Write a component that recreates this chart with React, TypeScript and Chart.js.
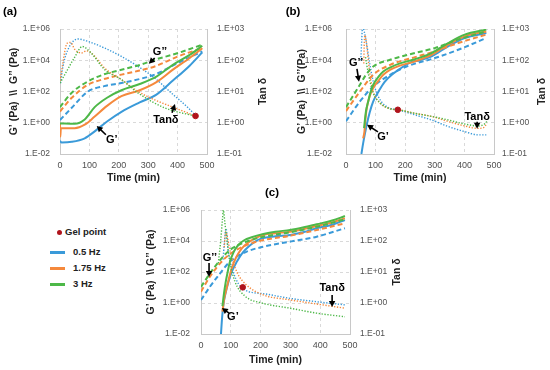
import React, { useEffect, useRef } from 'react';
import { Chart, registerables } from 'chart.js';

Chart.register(...registerables);

// ---------- shared axis / legend text ----------
const LEFT_TICK_VALUES = [0.01, 1, 100, 1e4, 1e6];
const LEFT_TICK_LABELS = ['1.E-02', '1.E+00', '1.E+02', '1.E+04', '1.E+06'];
const RIGHT_TICK_VALUES = [0.1, 1, 10, 100, 1000];
const RIGHT_TICK_LABELS = ['1.E-01', '1.E+00', '1.E+01', '1.E+02', '1.E+03'];
const FREQ_LABELS = ['0.5 Hz', '1.75 Hz', '3 Hz'];
const GEL_LABEL = 'Gel point';
const X_TITLE = 'Time (min)';
const RIGHT_TITLE = 'Tan δ';

// ---------- panel (a) ----------
const aGp05T = [0, 5, 40, 84, 118, 160, 209, 271, 328, 384, 441, 484];
const aGp05V = [0.07, 0.055, 0.06, 0.1, 0.28, 1.2, 5, 20, 63, 500, 4500, 32000];
const aGp175T = [0, 1, 3, 50, 84, 118, 160, 209, 271, 328, 384, 441, 484];
const aGp175V = [1, 0.13, 0.45, 0.45, 0.75, 2.5, 12, 50, 120, 400, 2500, 14000, 60000];
const aGp3T = [0, 50, 84, 118, 160, 209, 271, 328, 384, 441, 484];
const aGp3V = [0.9, 0.85, 1.6, 10, 40, 120, 300, 900, 5100, 22000, 85000];
const aGppT = [0, 39, 95, 150, 209, 271, 322, 401, 484];
const aGpp05V = [1.5, 8.7, 100, 220, 350, 630, 1200, 6600, 37000];
const aGpp175V = [5.2, 38, 270, 630, 1200, 2200, 4000, 17400, 60000];
const aGpp3V = [10, 80, 440, 1260, 2450, 5000, 10700, 29000, 98000];
const aTan05T = [2, 10, 30, 61, 96, 152, 209, 266, 322, 379, 436, 464];
const aTan05V = [18.6, 63, 251, 479, 398, 245, 132, 63, 27, 8.9, 3.0, 1.6];
const aTan175T = [0, 25, 36, 50, 73, 90, 107, 152, 209, 266, 322, 379, 464];
const aTan175V = [22, 355, 372, 224, 170, 200, 170, 56, 24, 10, 5.4, 3.3, 1.6];
const aTan3T = [0, 20, 50, 76, 106, 152, 209, 266, 356, 464];
const aTan3V = [18.6, 40, 126, 275, 170, 50, 24, 8.9, 3.0, 1.6];
const aGelT = [461];
const aGelV = [1.65];

// ---------- panel (b) ----------
const bGp05T = [52, 58, 65, 70, 80, 92, 110, 130, 160, 182, 216, 250, 289, 345, 401, 474];
const bGp05V = [0.01, 0.05, 0.25, 0.74, 4.5, 23, 100, 400, 1400, 2800, 7100, 10000, 17800, 78000, 263000, 550000];
const bGp175T = [58, 62, 66, 70, 80, 92, 110, 126, 150, 182, 233, 289, 345, 401, 474];
const bGp175V = [0.1, 0.25, 2, 8.5, 50, 166, 500, 1170, 2500, 4500, 8500, 22000, 100000, 340000, 700000];
const bGp3T = [61, 64, 68, 75, 82, 92, 110, 126, 150, 182, 233, 289, 345, 401, 474];
const bGp3V = [0.45, 1.6, 6.3, 23, 80, 270, 900, 1900, 3500, 6300, 11700, 29000, 126000, 436000, 910000];
const bGpp05T = [0, 47, 92, 149, 205, 300, 379, 474];
const bGpp05V = [1.26, 23, 209, 1170, 4000, 13800, 47000, 263000];
const bGpp175T = [0, 47, 92, 149, 233, 300, 379, 474];
const bGpp175V = [5.6, 100, 1170, 5100, 15800, 37000, 126000, 436000];
const bGpp3T = [0, 47, 65, 92, 149, 233, 300, 379, 474];
const bGpp3V = [10, 270, 1000, 4000, 10700, 29000, 60000, 209000, 708000];
const bTan05T = [50, 53, 56, 62, 70, 81, 92, 109, 137, 177, 233, 289, 345, 401, 446, 474];
const bTan05V = [100, 400, 1260, 800, 316, 72, 21, 6.9, 3.3, 2.6, 1.78, 1.23, 0.76, 0.52, 0.41, 0.41];
const bTan175T = [60, 62, 64, 67, 72, 81, 92, 115, 149, 177, 233, 289, 345, 401, 446, 466, 476];
const bTan175V = [79, 400, 630, 500, 200, 35, 10, 4.3, 2.8, 2.6, 2.0, 1.6, 1.1, 0.79, 0.66, 0.71, 0.95];
const bTan3T = [66, 70, 81, 92, 115, 149, 177, 233, 289, 345, 401, 446, 466, 476];
const bTan3V = [126, 72, 21, 8.9, 4.3, 2.8, 2.6, 2.0, 1.6, 1.23, 0.91, 0.79, 0.89, 1.1];
const bGelT = [175];
const bGelV = [2.6];

// ---------- panel (c) ----------
const cGp05T = [67, 71, 75, 82, 92, 105, 120, 140, 159, 180, 204, 250, 299, 345, 388, 440, 483];
const cGp05V = [0.01, 0.126, 0.74, 4, 23, 126, 457, 1780, 4270, 8900, 14800, 20000, 24500, 38000, 66000, 112000, 224000];
const cGp175T = [72, 78, 86, 94, 103, 118, 137, 158, 181, 209, 250, 299, 345, 388, 440, 483];
const cGp175V = [0.28, 2, 8.9, 40, 174, 890, 3390, 7900, 14800, 24500, 31600, 39800, 59000, 93000, 158000, 288000];
const cGp3T = [72, 77, 83, 90, 97, 110, 125, 145, 170, 209, 250, 299, 345, 388, 440, 483];
const cGp3V = [0.63, 4, 23, 112, 457, 2000, 5500, 11200, 17400, 28000, 39800, 51000, 76000, 120000, 209000, 407000];
const cGppT = [0, 30, 64, 97, 153, 209, 299, 388, 483];
const cGpp05V = [1.55, 11.2, 81, 468, 2040, 4270, 9100, 19000, 66000];
const cGpp175V = [5.4, 50, 363, 1450, 5500, 11500, 21900, 51000, 138000];
const cGpp3V = [11, 81, 590, 2630, 9100, 19000, 36300, 83000, 251000];
const cTan05T = [74, 78, 84, 92, 108, 142, 209, 299, 388, 483];
const cTan05V = [25, 79, 250, 45, 10, 2.8, 2.0, 1.41, 1.1, 0.87];
const cTan175T = [78, 83, 87, 97, 120, 153, 209, 299, 388, 483];
const cTan175V = [63, 200, 158, 51, 10.2, 3.8, 1.82, 1.26, 0.93, 0.68];
const cTan3T = [58, 66, 72, 75, 80, 86, 97, 114, 148, 204, 299, 388, 483];
const cTan3V = [19, 100, 500, 1000, 400, 123, 21, 4.9, 1.66, 1.0, 0.68, 0.47, 0.36];
const cGelT = [140];
const cGelV = [3.2];

// ---------- styles ----------
const COLORS = ['#3a9ad9', '#f5893c', '#4db848'];
const GEL_COLOR = '#b0141c';
const GRID = '#d9d9d9';
const AXIS = '#c8c8c8';
const TICK_COLOR = '#505050';
const FONT = "'Liberation Sans Narrow', 'Arial Narrow', 'Liberation Sans', Arial, sans-serif";
const BOLD_FONT = "'Liberation Sans', Arial, sans-serif";

type Ann = { text: string; tx: number; ty: number; from: [number, number]; to: [number, number] };
type PanelCfg = {
  left: number; top: number; w: number; h: number;
  padTop: number; yW: number; y2W: number; xH: number; yPad: number; y2Pad: number;
  label: string; labelDx: number; labelDy: number; labelFromCenter?: boolean;
  leftTitle: string; leftTitleOff: number; rightTitleOff: number; xTitleOff: number;
  gp: [number[], number[]][]; gpp: [number[], number[]][]; tan: [number[], number[]][];
  gel: [number[], number[]];
  anns: Ann[];
};

const zip = (t: number[], v: number[]) => t.map((x, i) => ({ x, y: v[i] }));

const PANELS: PanelCfg[] = [
  {
    left: 0, top: 0, w: 275, h: 185, padTop: 29, yW: 60, y2W: 68, xH: 31, yPad: 10, y2Pad: 10,
    label: '(a)', labelDx: -50, labelDy: -17,
    leftTitle: 'G’ (Pa)  \\\\  G’’ (Pa)', leftTitleOff: 46, rightTitleOff: 56, xTitleOff: 24,
    gp: [[aGp05T, aGp05V], [aGp175T, aGp175V], [aGp3T, aGp3V]],
    gpp: [[aGppT, aGpp05V], [aGppT, aGpp175V], [aGppT, aGpp3V]],
    tan: [[aTan05T, aTan05V], [aTan175T, aTan175V], [aTan3T, aTan3V]],
    gel: [aGelT, aGelV],
    anns: [
      { text: 'G’’', tx: 340, ty: 3.5e4, from: [322, 1.4e4], to: [302, 6e3] },
      { text: 'Tanδ', tx: 360, ty: 1.55, from: [381, 4.3], to: [391, 16] },
      { text: 'G’', tx: 176, ty: 0.08, from: [156, 0.17], to: [125, 0.63] },
    ],
  },
  {
    left: 275, top: 0, w: 275, h: 185, padTop: 29, yW: 71, y2W: 56, xH: 31, yPad: 14, y2Pad: 8,
    label: '(b)', labelDx: -53, labelDy: -17,
    leftTitle: 'G’ (Pa)  \\\\  G’’(Pa)', leftTitleOff: 44, rightTitleOff: 48, xTitleOff: 24,
    gp: [[bGp05T, bGp05V], [bGp175T, bGp175V], [bGp3T, bGp3V]],
    gpp: [[bGpp05T, bGpp05V], [bGpp175T, bGpp175V], [bGpp3T, bGpp3V]],
    tan: [[bTan05T, bTan05V], [bTan175T, bTan175V], [bTan3T, bTan3V]],
    gel: [bGelT, bGelV],
    anns: [
      { text: 'G’’', tx: 34, ty: 6900, from: [37, 2800], to: [44, 420] },
      { text: 'G’', tx: 125, ty: 0.126, from: [108, 0.26], to: [71, 0.74] },
      { text: 'Tanδ', tx: 443, ty: 2.4, from: [443, 1.15], to: [443, 0.41] },
    ],
  },
  {
    left: 130, top: 180, w: 290, h: 190, padTop: 30, yW: 71, y2W: 70, xH: 36, yPad: 11, y2Pad: 10,
    label: '(c)', labelDx: -3.5, labelDy: -17, labelFromCenter: true,
    leftTitle: 'G’ (Pa)  \\\\ G’’ (Pa)', leftTitleOff: 50, rightTitleOff: 47, xTitleOff: 26,
    gp: [[cGp05T, cGp05V], [cGp175T, cGp175V], [cGp3T, cGp3V]],
    gpp: [[cGppT, cGpp05V], [cGppT, cGpp175V], [cGppT, cGpp3V]],
    tan: [[cTan05T, cTan05V], [cTan175T, cTan175V], [cTan3T, cTan3V]],
    gel: [cGelT, cGelV],
    anns: [
      { text: 'G’’', tx: 30, ty: 800, from: [27, 380], to: [27, 48] },
      { text: 'G’', tx: 107, ty: 0.126, from: [94, 0.22], to: [70, 0.48] },
      { text: 'Tanδ', tx: 440, ty: 9.3, from: [440, 3.3], to: [440, 0.55] },
    ],
  },
];

function drawArrow(ctx: CanvasRenderingContext2D, x1: number, y1: number, x2: number, y2: number) {
  const ang = Math.atan2(y2 - y1, x2 - x1);
  const L = 6, W = 3.2;
  ctx.beginPath();
  ctx.moveTo(x1, y1);
  ctx.lineTo(x2 - (L - 1) * Math.cos(ang), y2 - (L - 1) * Math.sin(ang));
  ctx.stroke();
  ctx.beginPath();
  ctx.moveTo(x2, y2);
  ctx.lineTo(x2 - L * Math.cos(ang) + W * Math.sin(ang), y2 - L * Math.sin(ang) - W * Math.cos(ang));
  ctx.lineTo(x2 - L * Math.cos(ang) - W * Math.sin(ang), y2 - L * Math.sin(ang) + W * Math.cos(ang));
  ctx.closePath();
  ctx.fill();
}

function decorPlugin(p: PanelCfg) {
  return {
    id: 'decor',
    afterDatasetsDraw(chart: any) {
      const { ctx, chartArea: ca, scales } = chart;
      const xs = scales.x, ys = scales.y;
      ctx.save();
      ctx.fillStyle = '#000';
      ctx.strokeStyle = '#000';
      ctx.lineWidth = 1.6;
      ctx.font = `bold 11px ${BOLD_FONT}`;
      ctx.textAlign = 'center';
      ctx.textBaseline = 'middle';
      for (const a of p.anns) {
        drawArrow(ctx, xs.getPixelForValue(a.from[0]), ys.getPixelForValue(a.from[1]),
          xs.getPixelForValue(a.to[0]), ys.getPixelForValue(a.to[1]));
        ctx.fillText(a.text, xs.getPixelForValue(a.tx), ys.getPixelForValue(a.ty));
      }
      // axis titles
      ctx.fillStyle = '#222';
      ctx.font = `bold 10.5px ${BOLD_FONT}`;
      const cy = (ca.top + ca.bottom) / 2;
      ctx.save();
      ctx.translate(ca.left - p.leftTitleOff, cy);
      ctx.rotate(-Math.PI / 2);
      ctx.fillText(p.leftTitle, 0, 0);
      ctx.restore();
      ctx.save();
      ctx.translate(ca.right + p.rightTitleOff, cy);
      ctx.rotate(-Math.PI / 2);
      ctx.fillText(RIGHT_TITLE, 0, 0);
      ctx.restore();
      ctx.fillText(X_TITLE, (ca.left + ca.right) / 2, ca.bottom + p.xTitleOff);
      // panel label
      ctx.font = `bold 11.5px ${BOLD_FONT}`;
      ctx.fillStyle = '#000';
      const lx = p.labelFromCenter ? (ca.left + ca.right) / 2 + p.labelDx : ca.left + p.labelDx;
      ctx.fillText(p.label, lx, ca.top + p.labelDy);
      ctx.restore();
    },
  };
}

function buildConfig(p: PanelCfg): any {
  const datasets: any[] = [];
  datasets.push({
    data: zip(p.gel[0], p.gel[1]), yAxisID: 'y2', showLine: false,
    pointRadius: 2.8, pointBackgroundColor: GEL_COLOR, pointBorderColor: GEL_COLOR, order: -1,
  });
  [2, 1, 0].forEach((i) => {
    datasets.push({
      data: zip(p.gp[i][0], p.gp[i][1]), yAxisID: 'y', borderColor: COLORS[i], borderWidth: 2,
      pointRadius: 0, cubicInterpolationMode: 'monotone', fill: false,
    });
    datasets.push({
      data: zip(p.gpp[i][0], p.gpp[i][1]), yAxisID: 'y', borderColor: COLORS[i], borderWidth: 2,
      borderDash: [5, 3], pointRadius: 0, cubicInterpolationMode: 'monotone', fill: false,
    });
    datasets.push({
      data: zip(p.tan[i][0], p.tan[i][1]), yAxisID: 'y2', borderColor: COLORS[i], borderWidth: 1.4,
      borderDash: [1.3, 1.6], pointRadius: 0, cubicInterpolationMode: 'monotone', fill: false,
    });
  });
  const tickFont = { family: FONT, size: 8.5 };
  return {
    type: 'line',
    data: { datasets },
    options: {
      animation: false, responsive: false, maintainAspectRatio: false, events: [],
      layout: { padding: { top: p.padTop, left: 0, right: 0, bottom: 0 } },
      plugins: { legend: { display: false }, tooltip: { enabled: false } },
      scales: {
        x: {
          type: 'linear', position: 'bottom', min: 0, max: 500,
          ticks: { stepSize: 100, padding: 6, color: TICK_COLOR, font: { family: FONT, size: 9 }, maxRotation: 0, autoSkip: false },
          grid: { color: GRID, drawTicks: false },
          border: { display: true, color: AXIS, dash: [3, 3] },
          afterFit: (s: any) => { s.height = p.xH; },
        },
        y: {
          type: 'logarithmic', position: 'left', min: 0.01, max: 1e6,
          afterBuildTicks: (s: any) => { s.ticks = LEFT_TICK_VALUES.map((v) => ({ value: v })); },
          ticks: { padding: p.yPad, color: TICK_COLOR, font: tickFont, autoSkip: false,
            callback: (_v: any, i: number) => LEFT_TICK_LABELS[i] },
          grid: { color: GRID, drawTicks: false },
          border: { display: true, color: AXIS, dash: [3, 3] },
          afterFit: (s: any) => { s.width = p.yW; },
        },
        y2: {
          type: 'logarithmic', position: 'right', min: 0.1, max: 1000,
          afterBuildTicks: (s: any) => { s.ticks = RIGHT_TICK_VALUES.map((v) => ({ value: v })); },
          ticks: { padding: p.y2Pad, color: TICK_COLOR, font: tickFont, autoSkip: false,
            callback: (_v: any, i: number) => RIGHT_TICK_LABELS[i] },
          grid: { drawOnChartArea: false, drawTicks: false },
          border: { display: true, color: AXIS },
          afterFit: (s: any) => { s.width = p.y2W; },
        },
      },
    },
    plugins: [decorPlugin(p)],
  };
}

function Panel({ cfg }: { cfg: PanelCfg }) {
  const ref = useRef<HTMLCanvasElement>(null);
  useEffect(() => {
    const chart = new Chart(ref.current as HTMLCanvasElement, buildConfig(cfg));
    return () => chart.destroy();
  }, [cfg]);
  return (
    <div style={{ position: 'absolute', left: cfg.left, top: cfg.top, width: cfg.w, height: cfg.h }}>
      <canvas ref={ref} width={cfg.w} height={cfg.h} style={{ width: cfg.w, height: cfg.h, display: 'block' }} />
    </div>
  );
}

function Legend() {
  const text: React.CSSProperties = {
    position: 'absolute', fontFamily: BOLD_FONT, fontWeight: 'bold', fontSize: 9.5, color: '#222',
    lineHeight: '12px', whiteSpace: 'nowrap',
  };
  const rows = [252, 268, 284];
  return (
    <>
      <div style={{ position: 'absolute', left: 56.5, top: 229.5, width: 5, height: 5, borderRadius: '50%', background: GEL_COLOR }} />
      <div style={{ ...text, left: 65, top: 226 }}>{GEL_LABEL}</div>
      {FREQ_LABELS.map((lab, i) => (
        <React.Fragment key={lab}>
          <div style={{ position: 'absolute', left: 50, top: rows[i] - 1.5, width: 15, height: 3, background: COLORS[i] }} />
          <div style={{ ...text, left: 73, top: rows[i] - 6 }}>{lab}</div>
        </React.Fragment>
      ))}
    </>
  );
}

export default function App() {
  return (
    <div style={{ position: 'fixed', left: 0, top: 0, width: 550, height: 370, background: '#fff', overflow: 'hidden' }}>
      {PANELS.map((p, i) => <Panel key={i} cfg={p} />)}
      <Legend />
    </div>
  );
}
